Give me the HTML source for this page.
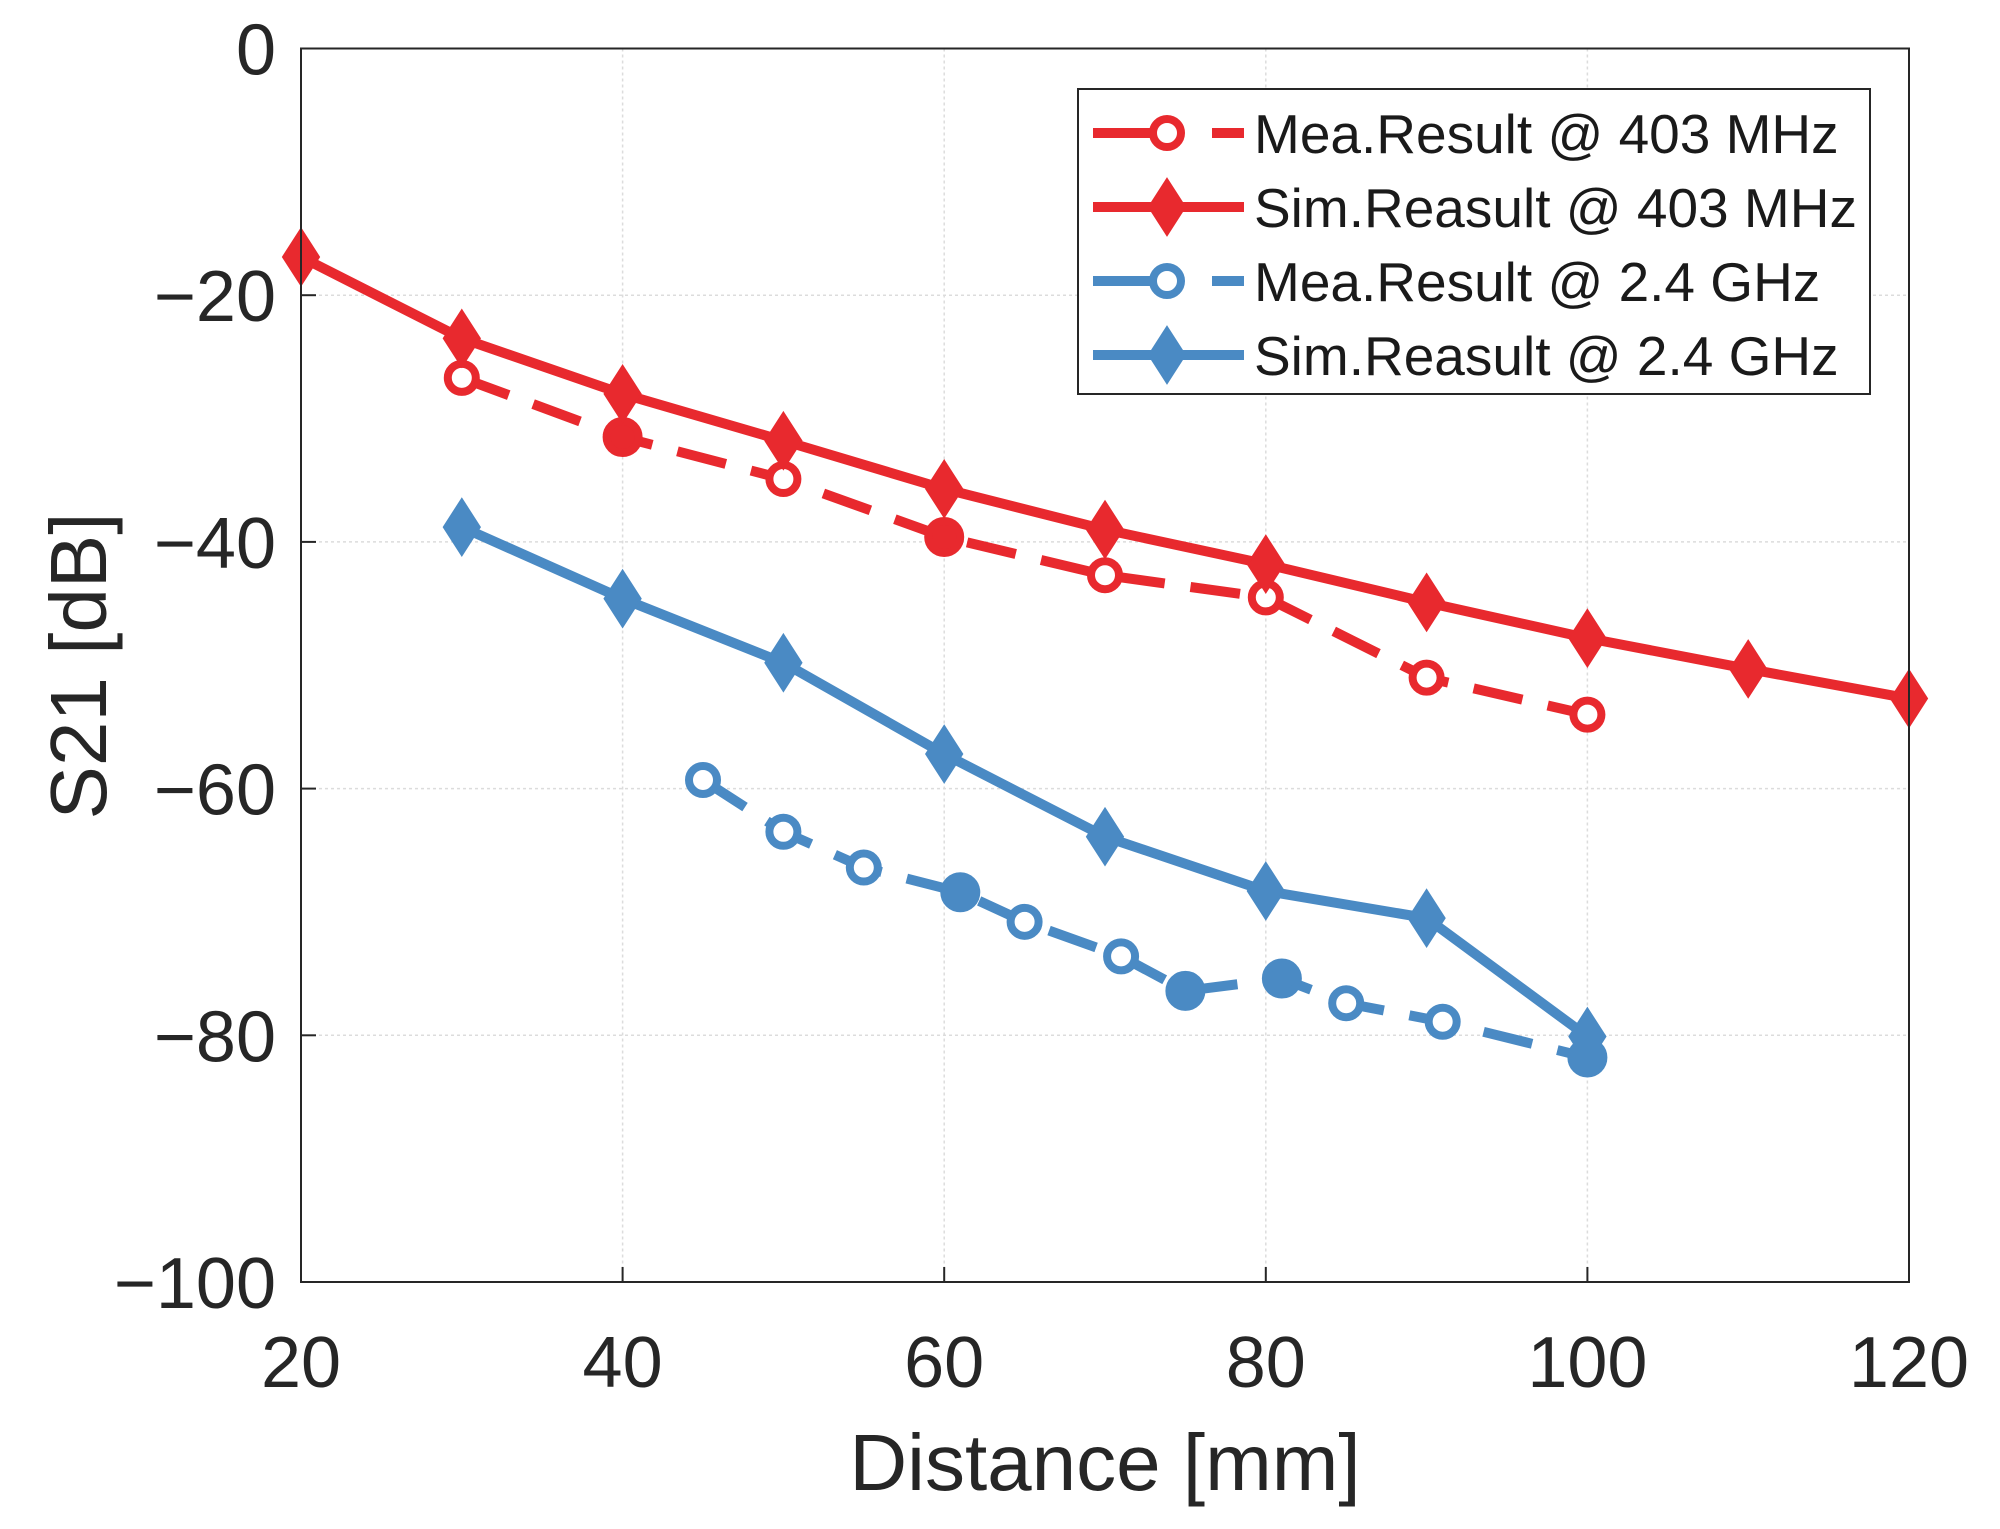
<!DOCTYPE html>
<html><head><meta charset="utf-8"><style>
html,body{margin:0;padding:0;background:#fff;}
svg{display:block;font-family:"Liberation Sans",sans-serif;}
</style></head><body>
<svg id="chart" width="2000" height="1529" viewBox="0 0 2000 1529">
<g id="grid"></g>
<g id="series"></g>
<rect x="301" y="48.5" width="1608" height="1233.5" fill="none" stroke="#262626" stroke-width="2"/>
<g id="ticks"></g>
<text x="1105" y="1490" font-size="80" text-anchor="middle" fill="#262626">Distance [mm]</text>
<text x="0" y="0" font-size="80" text-anchor="middle" fill="#262626" transform="translate(106,666) rotate(-90)">S21 [dB]</text>
<g id="legend">
<rect x="1078" y="89" width="792" height="305" fill="#fff" stroke="#262626" stroke-width="2"/>
</g>
</svg>
<script>
const xTicks=[20,40,60,80,100,120];
const yTicks=[0,-20,-40,-60,-80,-100];
const simX403=[20,30,40,50,60,70,80,90,100,110,120];
const simY403=[-16.9,-23.5,-28.0,-31.8,-35.7,-39.0,-41.8,-44.9,-47.8,-50.3,-52.7];
const meaX403=[30,40,50,60,70,80,90,100];
const meaY403=[-26.7,-31.5,-34.9,-39.6,-42.7,-44.5,-51.0,-54.0];
const meaFilled403=[0,1,0,1,0,0,0,0];
const simX24=[30,40,50,60,70,80,90,100];
const simY24=[-38.8,-44.6,-49.8,-57.2,-63.9,-68.3,-70.5,-80.1];
const meaX24=[45,50,55,61,65,71,75,81,85,91,100];
const meaY24=[-59.3,-63.5,-66.4,-68.4,-70.8,-73.6,-76.4,-75.4,-77.4,-78.9,-81.8];
const meaFilled24=[0,0,0,1,0,0,1,1,0,0,1];
const legendLabels=["Mea.Result @ 403 MHz","Sim.Reasult @ 403 MHz","Mea.Result @ 2.4 GHz","Sim.Reasult @ 2.4 GHz"];

const NS="http://www.w3.org/2000/svg";
const X0=301,X1=1909,Y0=48.5,Y1=1282;
const sx=v=>X0+(v-20)/100*(X1-X0);
const sy=v=>Y0+(0-v)/100*(Y1-Y0);
const RED="#e8292e",BLUE="#4a8ac4";
function mk(tag,attrs,parent){const e=document.createElementNS(NS,tag);for(const k in attrs)e.setAttribute(k,attrs[k]);parent.appendChild(e);return e;}
const grid=document.getElementById('grid'),ticks=document.getElementById('ticks'),ser=document.getElementById('series'),leg=document.getElementById('legend');
xTicks.forEach(t=>{
  const l=mk('line',{x1:sx(t),x2:sx(t),y1:Y0,y2:Y1,stroke:'#dcdcdc','stroke-width':1.5,'stroke-dasharray':'3 3'},grid);
  
  
  const k=mk('line',{x1:sx(t),x2:sx(t),y1:Y1,y2:Y1-15,stroke:'#262626','stroke-width':2},ticks);
  
  
  const tx=mk('text',{x:sx(t),y:1387,'font-size':72,'text-anchor':'middle',fill:'#262626'},ticks);
  tx.textContent=t;
  
  
});
yTicks.forEach(t=>{
  const l=mk('line',{x1:X0,x2:X1,y1:sy(t),y2:sy(t),stroke:'#dcdcdc','stroke-width':1.5,'stroke-dasharray':'3 3'},grid);
  
  
  const k=mk('line',{x1:X0,x2:X0+15,y1:sy(t),y2:sy(t),stroke:'#262626','stroke-width':2},ticks);
  
  
  const tx=mk('text',{x:276,y:sy(t)+26,'font-size':72,'text-anchor':'end',fill:'#262626'},ticks);
  tx.textContent=(t<0?'\u2212'+(-t):t);
  
  
});
function diamond(cx,cy,c,p,name){
  const d=mk('path',{d:`M${cx} ${cy-28}L${cx+18} ${cy}L${cx} ${cy+28}L${cx-18} ${cy}Z`,fill:c,stroke:c,'stroke-width':2},p);
  
  
}
function circ(cx,cy,c,p,name,filled){
  const d=mk('circle',{cx:cx,cy:cy,r:filled?16:14,fill:filled?c:'#fff',stroke:c,'stroke-width':8},p);
  
  
}
function series(xs,ys,c,dashed,marker,name,filled){
  const pts=xs.map((x,i)=>sx(x)+','+sy(ys[i])).join(' ');
  const a={points:pts,fill:'none',stroke:c,'stroke-width':10,'stroke-linejoin':'round'};
  if(dashed)a['stroke-dasharray']='50 26';
  const pl=mk('polyline',a,ser);
  
  
  xs.forEach((x,i)=>marker(sx(x),sy(ys[i]),c,ser,name+'-marker',filled?filled[i]:0));
}
series(meaX403,meaY403,RED,true,circ,'mea-403',meaFilled403);
series(simX403,simY403,RED,false,diamond,'sim-403');
series(meaX24,meaY24,BLUE,true,circ,'mea-24',meaFilled24);
series(simX24,simY24,BLUE,false,diamond,'sim-24');
const rowsY=[133,207,281,355],cols=[RED,RED,BLUE,BLUE],dash=[true,false,true,false];
legendLabels.forEach((lab,i)=>{
  const y=rowsY[i];
  const g=mk('g',{},leg);
  
  
  if(dash[i]){
    mk('line',{x1:1093,x2:1150,y1:y,y2:y,stroke:cols[i],'stroke-width':10},g);
    mk('line',{x1:1212,x2:1244,y1:y,y2:y,stroke:cols[i],'stroke-width':10},g);
    circ(1167,y,cols[i],g,'legend-marker',0);
  }else{
    mk('line',{x1:1093,x2:1244,y1:y,y2:y,stroke:cols[i],'stroke-width':10},g);
    diamond(1167,y,cols[i],g,'legend-marker');
  }
  const t=mk('text',{x:1254,y:y+20,'font-size':55,fill:'#1a1a1a'},g);
  t.textContent=lab;
  
  
});
</script>
</body></html>
